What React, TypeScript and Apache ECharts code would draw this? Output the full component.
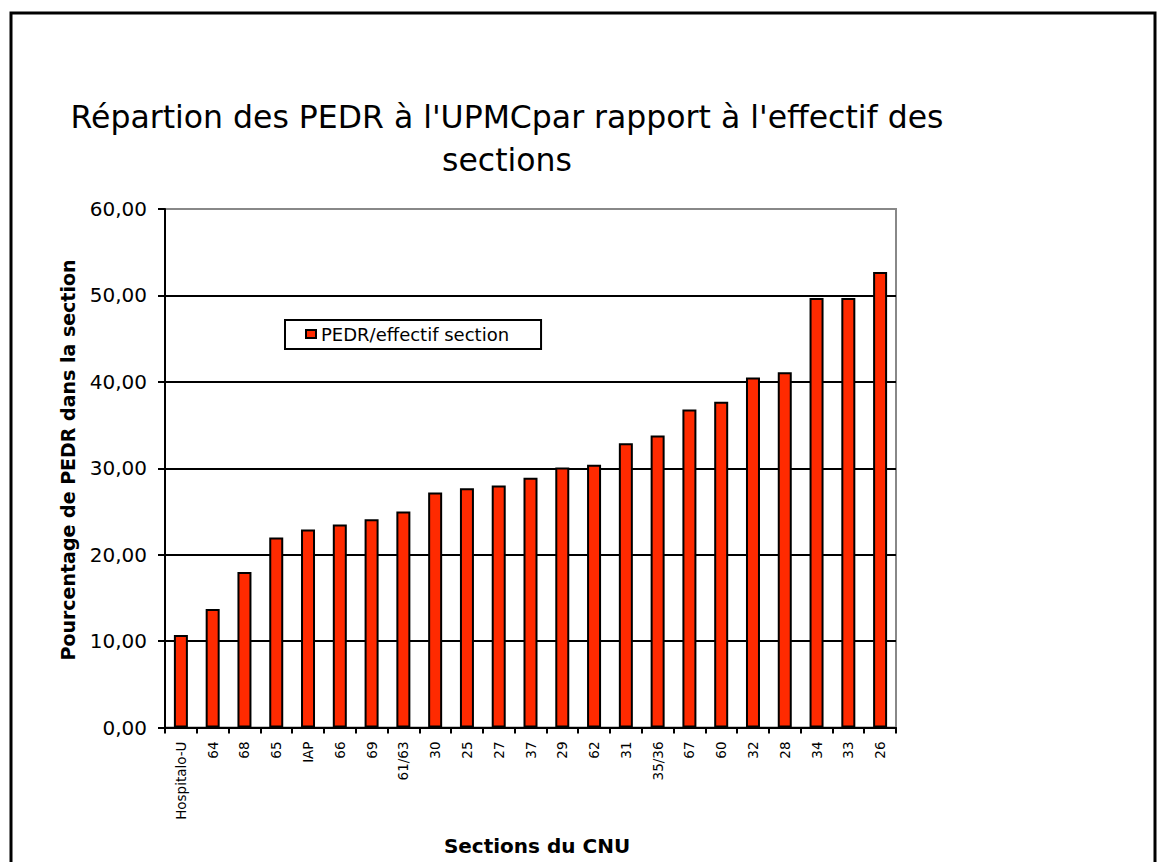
import React, { useEffect, useRef } from "react";
import * as echarts from "echarts";

const categories = [
  "Hospitalo-U", "64", "68", "65", "IAP", "66", "69", "61/63", "30", "25", "27", "37",
  "29", "62", "31", "35/36", "67", "60", "32", "28", "34", "33", "26",
];
const values = [
  10.7, 13.7, 18.0, 22.0, 22.9, 23.5, 24.1, 25.0, 27.2, 27.7, 28.0, 28.9,
  30.1, 30.4, 32.9, 33.8, 36.8, 37.7, 40.5, 41.1, 49.7, 49.7, 52.7,
];
const seriesName = "PEDR/effectif section";
const titleText = "Répartion des PEDR à l'UPMCpar rapport à l'effectif des\nsections";
const yAxisTitle = "Pourcentage de PEDR dans la section";
const xAxisTitle = "Sections du CNU";

const FONT = "'DejaVu Sans', Verdana, sans-serif";

export default function App() {
  const ref = useRef<HTMLDivElement>(null);
  useEffect(() => {
    if (!ref.current) return;
    const chart = echarts.init(ref.current, undefined, { renderer: "svg" });
    chart.setOption({
      animation: false,
      backgroundColor: "#ffffff",
      textStyle: { fontFamily: FONT },
      grid: {
        left: 165,
        right: 261,
        top: 209,
        bottom: 134.5,
        show: true,
        borderColor: "#888888",
        borderWidth: 2,
        backgroundColor: "#ffffff",
      },
      legend: {
        data: [seriesName],
        left: 285,
        top: 320,
        orient: "horizontal",
        icon: "rect",
        itemWidth: 10,
        itemHeight: 8,
        borderColor: "#000",
        borderWidth: 2,
        backgroundColor: "#fff",
        padding: [5, 32, 6, 20],
        textStyle: { fontFamily: FONT, fontSize: 18, color: "#000" },
      },
      xAxis: {
        type: "category",
        data: categories,
        boundaryGap: true,
        axisLine: { show: true, lineStyle: { color: "#000", width: 2 } },
        axisTick: { show: true, interval: 0, length: 6, lineStyle: { color: "#000", width: 2 } },
        axisLabel: {
          interval: 0,
          rotate: 90,
          margin: 14,
          fontFamily: FONT,
          fontSize: 13.5,
          color: "#000",
        },
        splitLine: { show: false },
      },
      yAxis: {
        type: "value",
        min: 0,
        max: 60,
        interval: 10,
        axisLine: { show: true, lineStyle: { color: "#000", width: 2 } },
        axisTick: { show: true, length: 7, lineStyle: { color: "#000", width: 2 } },
        axisLabel: {
          margin: 18,
          fontFamily: FONT,
          fontSize: 20,
          color: "#000",
          formatter: (v: number) => v.toFixed(2).replace(".", ","),
        },
        splitLine: {
          show: true,
          showMaxLine: false,
          lineStyle: { color: "#000", width: 2 },
        },
      },
      series: [
        {
          name: seriesName,
          type: "bar",
          data: values,
          barWidth: 14,
          itemStyle: { color: "#ff2a00", borderColor: "#000", borderWidth: 2 },
        },
      ],
      graphic: [
        {
          type: "rect",
          shape: { x: 11, y: 13, width: 1144, height: 880 },
          style: { fill: "none", stroke: "#000", lineWidth: 3 },
          z: 100,
          silent: true,
        },
        {
          type: "text",
          x: 507,
          y: 138,
          style: {
            text: titleText,
            textAlign: "center",
            textVerticalAlign: "middle",
            font: `31.5px ${FONT}`,
            lineHeight: 43,
            fill: "#000",
          },
        },
        {
          type: "text",
          x: 68,
          y: 460,
          rotation: Math.PI / 2,
          style: {
            text: yAxisTitle,
            textAlign: "center",
            textVerticalAlign: "middle",
            font: `bold 19px ${FONT}`,
            fill: "#000",
          },
        },
        {
          type: "text",
          x: 537,
          y: 846,
          style: {
            text: xAxisTitle,
            textAlign: "center",
            textVerticalAlign: "middle",
            font: `bold 20px ${FONT}`,
            fill: "#000",
          },
        },
      ],
    });
    return () => chart.dispose();
  }, []);
  return (
    <div
      ref={ref}
      style={{ position: "fixed", left: 0, top: 0, width: 1157, height: 862 }}
    />
  );
}
